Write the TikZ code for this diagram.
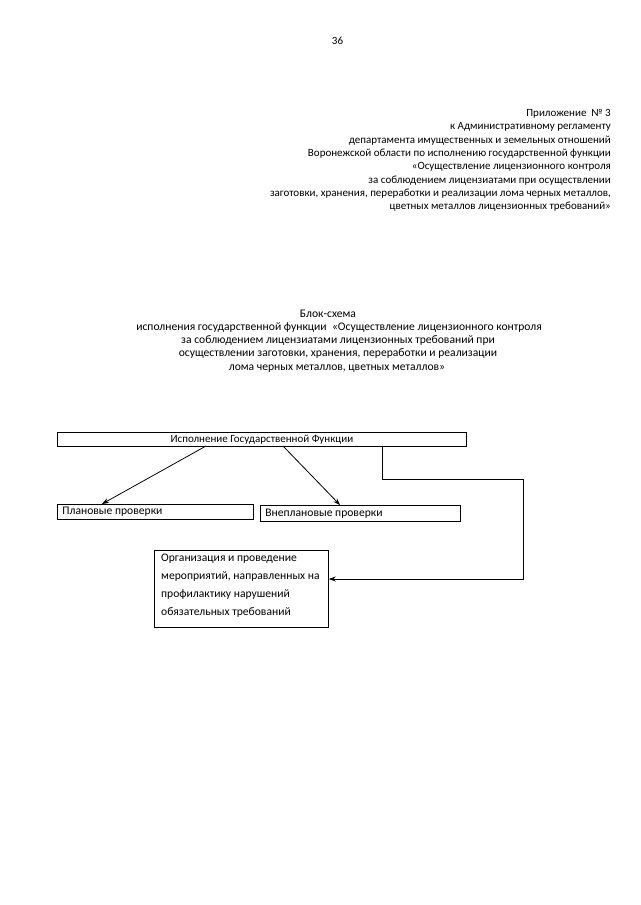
\documentclass[tikz,border=0pt]{standalone}
\usepackage{fontspec}
\setmainfont{Carlito}
\usetikzlibrary{arrows.meta}
\begin{document}
\begin{tikzpicture}[x=1pt,y=-1pt,
  hdr/.style={anchor=base east,inner sep=0pt,font=\fontsize{11}{13}\selectfont},
  ttl/.style={anchor=base,inner sep=0pt,font=\fontsize{11.6}{14}\selectfont},
  box/.style={draw=black,line width=0.8pt,inner sep=0pt},
  conn/.style={line width=0.8pt,-{Stealth[length=7pt,width=5pt]}},
  wire/.style={line width=0.8pt}]
\fill[white] (0,0) rectangle (640,905);
\useasboundingbox (0,0) rectangle (640,905);
% page number
\node[anchor=base,inner sep=0pt,font=\fontsize{11}{13}\selectfont] (pg) at (337.5,44) {36};
% header
\node[hdr] (h1) at (611,116.5) {Приложение~~№ 3};
\node[hdr] (h2) at (611,129.8) {к Административному регламенту};
\node[hdr] (h3) at (611,143.1) {департамента имущественных и земельных отношений};
\node[hdr] (h4) at (611,156.4) {Воронежской области по исполнению государственной функции};
\node[hdr] (h5) at (611,169.7) {«Осуществление лицензионного контроля};
\node[hdr] (h6) at (611,183.0) {за соблюдением лицензиатами при осуществлении};
\node[hdr] (h7) at (611,196.3) {заготовки, хранения, переработки и реализации лома черных металлов,};
\node[hdr] (h8) at (611,209.6) {цветных металлов лицензионных требований»};
% title
\node[ttl] (t1) at (328,317) {Блок-схема};
\node[ttl] (t2) at (339,330.3) {исполнения государственной функции~~«Осуществление лицензионного контроля};
\node[ttl] (t3) at (338,343.6) {за соблюдением лицензиатами лицензионных требований при};
\node[ttl] (t4) at (338,356.9) {осуществлении заготовки, хранения, переработки и реализации};
\node[ttl] (t5) at (337,370.2) {лома черных металлов, цветных металлов»};
% boxes
\node[box,anchor=north west,minimum width=409pt,minimum height=14pt,
  font=\fontsize{11}{13}\selectfont] (main) at (57,432) {Исполнение Государственной Функции};
\node[box,anchor=north west,minimum width=196pt,minimum height=15pt,
  font=\fontsize{11.6}{14}\selectfont] (plan) at (57,504) {\makebox[186pt][l]{Плановые проверки}};
\node[box,anchor=north west,minimum width=200pt,minimum height=16pt,
  font=\fontsize{11.6}{14}\selectfont] (vne) at (260,505) {\makebox[190pt][l]{Внеплановые проверки}};
\node[box,anchor=north west,minimum width=174pt,minimum height=77pt] (org) at (154,550) {};
\node[anchor=north west,inner sep=0pt,align=left,
  font=\fontsize{11.6}{17.8}\selectfont] (orgt) at (161,554)
  {Организация и проведение\\мероприятий, направленных на\\профилактику нарушений\\обязательных требований};
% connectors
\coordinate (a1) at (206,446);
\coordinate (a1e) at (102,504);
\coordinate (a2) at (283,446);
\coordinate (a2e) at (340,505);
\draw[conn] (a1) -- (a1e);
\draw[conn] (a2) -- (a2e);
\coordinate (k1) at (382.5,446);
\coordinate (k2) at (382.5,479);
\coordinate (k3) at (523,479);
\coordinate (k4) at (523,579);
\draw[conn] (k1) -- (k2) -- (k3) -- (k4) -- (org.east |- k4);
\end{tikzpicture}
\end{document}
